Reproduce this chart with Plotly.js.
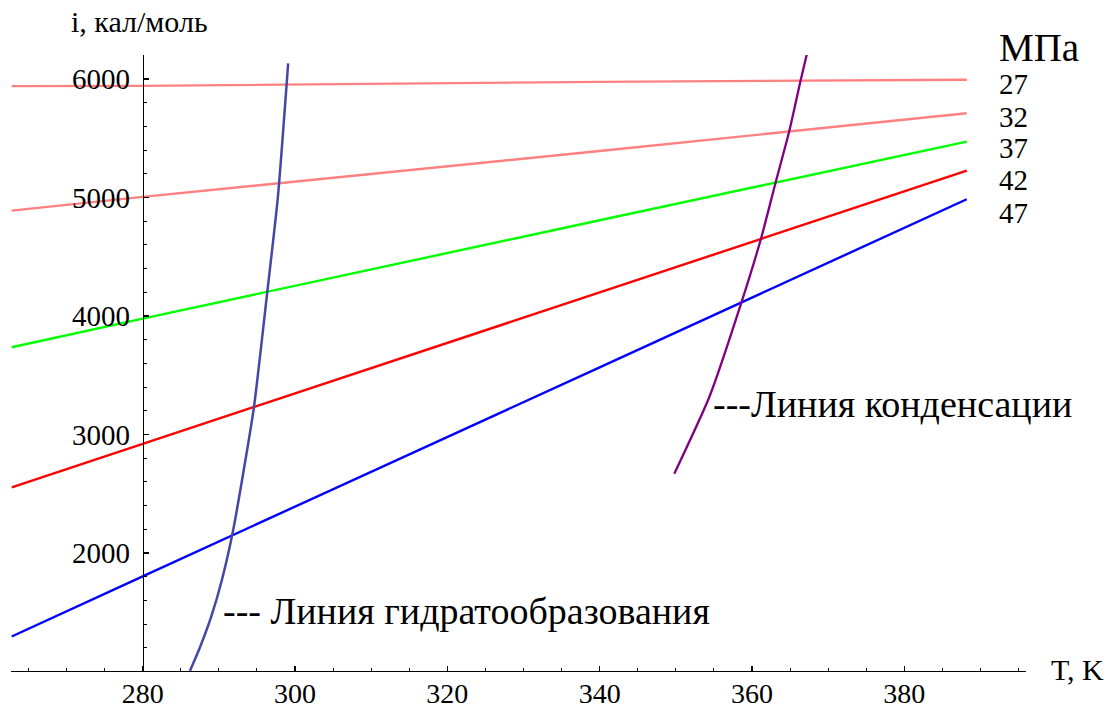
<!DOCTYPE html>
<html>
<head>
<meta charset="utf-8">
<script src="https://cdn.plot.ly/plotly-3.0.1.min.js"></script>
<style>html,body{margin:0;padding:0;background:#fff;}#chart{width:1113px;height:711px;}</style>
</head>
<body>
<div id="chart"></div>
<script>
// ---- data ----
const isoT = [262.8, 280, 340, 388.2];          // K
const pressures = ['27', '32', '37', '42', '47']; // MPa
const i27 = [5940, 5942, 5976, 5994];
const i32 = [4889, 5005, 5392, 5711];
const i37 = [3736, 3978, 4808, 5471];
const i42 = [2554, 2920, 4197, 5226];
const i47 = [1295, 1803, 3567, 4985];

const hydT = [286.2, 287.5, 289.0, 290.4, 291.8, 293.2, 294.6, 296.35, 297.75, 299.1];
const hydI = [1004, 1200, 1462, 1772, 2166, 2673, 3226, 4197, 5004, 6132];

const condT = [349.8, 354.4, 358.65, 361.2, 363.1, 364.9, 366.4, 367.2];
const condI = [2669, 3316, 4121, 4656, 5125, 5561, 5992, 6208];

const xTicks = [280, 300, 320, 340, 360, 380];
const yTicks = [2000, 3000, 4000, 5000, 6000];

// ---- layout geometry ----
const W = 1113, H = 711;
const M = {l: 11, r: 87, t: 55, b: 40};
const xRange = [262.71, 395.98];
const yRange = [1004, 6202.5];
const PW = W - M.l - M.r, PH = H - M.t - M.b;
const px = x => (x - M.l) / PW;
const py = y => (H - M.b - y) / PH;

const serif = '"Liberation Serif", "Times New Roman", Times, serif';
const isoColors = ['#ff8080', '#ff8080', '#00ff00', '#ff0000', '#0000ff'];
const isoData = [i27, i32, i37, i42, i47];

const traces = isoData.map((arr, k) => ({
  x: isoT, y: arr, mode: 'lines', type: 'scatter',
  name: pressures[k] + ' МПа',
  line: {color: isoColors[k], width: 2.4},
  hoverinfo: 'x+y+name'
}));
traces.push({
  x: hydT, y: hydI, mode: 'lines', type: 'scatter', name: 'Линия гидратообразования',
  line: {color: '#4646a6', width: 2.5, shape: 'spline', smoothing: 0.6}
});
traces.push({
  x: condT, y: condI, mode: 'lines', type: 'scatter', name: 'Линия конденсации',
  line: {color: '#800080', width: 2.3, shape: 'spline', smoothing: 0.6}
});

const yPos = (280 - xRange[0]) / (xRange[1] - xRange[0]);

const labelYs = [84.5, 117, 148, 180, 212.5];
const annotations = [
  {text: 'i, кал/моль', x: px(69), y: py(22), xanchor: 'left', yanchor: 'middle', font: {size: 30}},
  {text: 'T, K', x: px(1049), y: py(669), xanchor: 'left', yanchor: 'middle', font: {size: 30}},
  {text: 'МПа', x: px(997), y: py(47), xanchor: 'left', yanchor: 'middle', font: {size: 39}},
  {text: '--- Линия гидратообразования', x: px(221), y: py(611), xanchor: 'left', yanchor: 'middle', font: {size: 38}},
  {text: '---Линия конденсации', x: px(711), y: py(404), xanchor: 'left', yanchor: 'middle', font: {size: 38}}
];
pressures.forEach((p, k) => annotations.push({
  text: p, x: px(997), y: py(labelYs[k]), xanchor: 'left', yanchor: 'middle', font: {size: 29}
}));
annotations.forEach(a => {
  a.xref = 'paper'; a.yref = 'paper'; a.showarrow = false;
  a.font = Object.assign({family: serif, color: '#000'}, a.font);
});

const layout = {
  width: W, height: H,
  margin: M,
  paper_bgcolor: '#fff', plot_bgcolor: '#fff',
  showlegend: false,
  font: {family: serif, color: '#000'},
  xaxis: {
    range: xRange, showgrid: false, zeroline: false,
    showline: true, linecolor: '#000', linewidth: 1.2,
    ticks: 'inside', ticklen: 5, tickwidth: 1.2, tickcolor: '#000',
    tickmode: 'array', tickvals: xTicks, ticktext: xTicks.map(String),
    tickfont: {family: serif, size: 28, color: '#000'},
    ticklabelstandoff: -3,
    minor: {dtick: 5, tick0: 0, ticks: 'inside', ticklen: 3, tickwidth: 1, tickcolor: '#000', showgrid: false}
  },
  yaxis: {
    range: yRange, showgrid: false, zeroline: false,
    anchor: 'free', position: yPos,
    showline: true, linecolor: '#000', linewidth: 1.2,
    ticks: 'inside', ticklen: 5, tickwidth: 1.2, tickcolor: '#000',
    tickmode: 'array', tickvals: yTicks, ticktext: yTicks.map(String),
    tickfont: {family: serif, size: 29, color: '#000'},
    ticklabelstandoff: 7,
    minor: {dtick: 200, tick0: 0, ticks: 'inside', ticklen: 3, tickwidth: 1, tickcolor: '#000', showgrid: false}
  },
  annotations: annotations
};

Plotly.newPlot('chart', traces, layout, {displayModeBar: false, staticPlot: true});
</script>
</body>
</html>
